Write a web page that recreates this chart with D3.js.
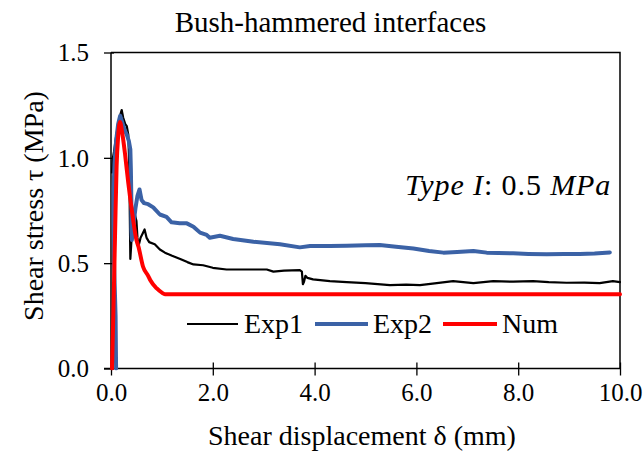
<!DOCTYPE html>
<html>
<head>
<meta charset="utf-8">
<script src="https://cdn.jsdelivr.net/npm/d3@7"></script>
<style>
  html, body { margin: 0; padding: 0; background: #fff; }
  svg { display: block; }
</style>
</head>
<body>
<svg id="chart" width="644" height="458"></svg>
<script>
// Shear displacement (mm) vs shear stress (MPa)
const exp1 = [
  [0.02,0.93],[0.03,0.99],[0.06,1.03],[0.10,1.10],[0.15,1.17],[0.19,1.21],[0.21,1.227],
  [0.24,1.19],[0.28,1.16],[0.31,1.15],[0.34,1.11],[0.36,0.95],[0.37,0.72],[0.38,0.52],
  [0.40,0.60],[0.43,0.74],[0.47,0.73],[0.50,0.70],[0.52,0.62],[0.54,0.58],[0.58,0.62],
  [0.62,0.64],[0.66,0.66],[0.70,0.62],[0.75,0.60],[0.86,0.59],[0.96,0.565],[1.06,0.55],
  [1.20,0.535],[1.36,0.52],[1.50,0.505],[1.62,0.494],[1.81,0.490],[2.00,0.478],[2.27,0.470],
  [2.60,0.470],[3.06,0.470],[3.19,0.460],[3.40,0.465],[3.71,0.467],[3.75,0.46],[3.77,0.40],
  [3.79,0.41],[3.82,0.44],[3.86,0.43],[3.97,0.423],[4.30,0.415],[4.63,0.41],[5.00,0.405],
  [5.48,0.396],[5.80,0.398],[6.07,0.396],[6.40,0.405],[6.72,0.415],[7.12,0.405],[7.51,0.415],
  [7.90,0.412],[8.29,0.415],[8.60,0.41],[8.95,0.407],[9.30,0.408],[9.60,0.405],[9.86,0.415],
  [10.0,0.41]
];
const exp2 = [
  [0.10,0.0],[0.09,0.25],[0.06,0.50],[0.05,0.70],[0.05,0.85],[0.07,0.98],[0.10,1.08],
  [0.14,1.16],[0.18,1.20],[0.22,1.17],[0.27,1.13],[0.31,1.11],[0.35,1.08],[0.38,1.04],
  [0.39,0.95],[0.40,0.80],[0.40,0.66],[0.41,0.61],[0.44,0.68],[0.48,0.76],[0.52,0.82],
  [0.56,0.85],[0.60,0.80],[0.65,0.785],[0.73,0.78],[0.83,0.765],[0.96,0.731],[1.09,0.72],
  [1.19,0.694],[1.35,0.69],[1.49,0.689],[1.62,0.673],[1.75,0.645],[1.88,0.634],[1.94,0.621],
  [2.14,0.630],[2.40,0.615],[2.80,0.602],[3.32,0.59],[3.71,0.575],[3.91,0.581],[4.30,0.582],
  [4.63,0.583],[5.00,0.585],[5.28,0.586],[5.60,0.578],[5.94,0.57],[6.25,0.558],[6.53,0.55],
  [6.80,0.553],[7.12,0.558],[7.38,0.55],[7.90,0.547],[8.20,0.544],[8.56,0.542],[8.90,0.543],
  [9.21,0.544],[9.50,0.546],[9.80,0.551]
];
const num = [
  [0.02,0.0],[0.05,0.30],[0.08,0.64],[0.11,0.96],[0.14,1.10],[0.177,1.17],[0.22,1.12],
  [0.275,1.02],[0.34,0.88],[0.41,0.75],[0.50,0.61],[0.54,0.578],[0.63,0.483],[0.73,0.44],
  [0.77,0.42],[0.90,0.38],[1.00,0.36],[1.06,0.353],[10.0,0.353]
];

const seriesNames = ["Exp1", "Exp2", "Num"];
const seriesColors = ["#000000", "#3b62a6", "#ff0000"];
const seriesWidths = [2.2, 4, 4];

const xTicks = [0, 2, 4, 6, 8, 10];
const xTickLabels = ["0.0", "2.0", "4.0", "6.0", "8.0", "10.0"];
const yTicks = [0, 0.5, 1.0, 1.5];
const yTickLabels = ["0.0", "0.5", "1.0", "1.5"];

const FONT = "'Liberation Serif', 'Times New Roman', serif";
const svg = d3.select("#chart");
const plotLeft = 111, plotRight = 620, plotTop = 52.5, plotBottom = 368.5;

const x = d3.scaleLinear().domain([0, 10]).range([plotLeft, plotRight]);
const y = d3.scaleLinear().domain([0, 1.5]).range([plotBottom, plotTop]);

// Title
svg.append("text")
  .attr("x", 330.5).attr("y", 32)
  .attr("text-anchor", "middle")
  .style("font-family", FONT).style("font-size", "29px")
  .text("Bush-hammered interfaces");

// Plot frame (top and right edges)
svg.append("path")
  .attr("d", `M${plotLeft},${plotTop}H${plotRight}V${plotBottom}`)
  .attr("fill", "none").attr("stroke", "#000").attr("stroke-width", 1.5);

// Axes
const xAxis = svg.append("g")
  .attr("transform", `translate(0,${plotBottom})`)
  .call(d3.axisBottom(x).tickValues(xTicks).tickSize(7).tickFormat((d, i) => xTickLabels[i]));
xAxis.select(".domain").attr("stroke-width", 1.5).attr("d", `M${plotLeft - 7},0H${plotRight}`);
xAxis.selectAll(".tick line").attr("y1", -6).attr("stroke-width", 1.3);
xAxis.selectAll(".tick text")
  .attr("y", 32.5).attr("dy", 0)
  .style("font-family", FONT).style("font-size", "25px").attr("fill", "#000");

const yAxis = svg.append("g")
  .attr("transform", `translate(${plotLeft},0)`)
  .call(d3.axisLeft(y).tickValues(yTicks).tickSize(7).tickFormat((d, i) => yTickLabels[i]));
yAxis.select(".domain").attr("stroke-width", 1.5).attr("d", `M0,${plotTop}V${plotBottom}`);
yAxis.selectAll(".tick line").attr("x1", 3).attr("stroke-width", 1.3);
yAxis.selectAll(".tick text")
  .attr("x", -22).attr("dy", "0.33em")
  .style("font-family", FONT).style("font-size", "25px").attr("fill", "#000");

// Axis titles
svg.append("text")
  .attr("x", 362).attr("y", 445)
  .attr("text-anchor", "middle")
  .style("font-family", FONT).style("font-size", "28px")
  .text("Shear displacement δ (mm)");

svg.append("text")
  .attr("transform", "translate(43,206) rotate(-90)")
  .attr("text-anchor", "middle")
  .style("font-family", FONT).style("font-size", "28px")
  .text("Shear stress τ (MPa)");

// Curves
const line = d3.line().x(d => x(d[0])).y(d => y(d[1]));
const smooth = d3.line().x(d => x(d[0])).y(d => y(d[1])).curve(d3.curveMonotoneX);

svg.append("clipPath").attr("id", "plot-clip")
  .append("rect").attr("x", plotLeft - 2).attr("y", plotTop - 10)
  .attr("width", plotRight - plotLeft + 4).attr("height", plotBottom - plotTop + 12);

const curves = svg.append("g").attr("clip-path", "url(#plot-clip)");
[exp1, exp2, num].forEach((data, i) => {
  curves.append("path")
    .datum(data)
    .attr("d", i === 2 ? smooth : line)
    .attr("fill", "none")
    .attr("stroke", seriesColors[i])
    .attr("stroke-width", seriesWidths[i])
    .attr("stroke-linejoin", "round")
    .attr("stroke-linecap", "round");
});

// Loading annotation
const note = svg.append("text")
  .attr("x", 405).attr("y", 195)
  .style("font-family", FONT).style("font-size", "30px")
  .style("letter-spacing", "0.9px");
note.append("tspan").style("font-style", "italic").text("Type I");
note.append("tspan").text(": 0.5 ");
note.append("tspan").style("font-style", "italic").text("MPa");

// Legend
const legendItems = [
  { x1: 187, x2: 238, tx: 244 },
  { x1: 315, x2: 368, tx: 373 },
  { x1: 443, x2: 497, tx: 502 }
];
const legend = svg.append("g");
legendItems.forEach((item, i) => {
  legend.append("line")
    .attr("x1", item.x1).attr("x2", item.x2)
    .attr("y1", 324).attr("y2", 324)
    .attr("stroke", seriesColors[i])
    .attr("stroke-width", seriesWidths[i]);
  legend.append("text")
    .attr("x", item.tx).attr("y", 333)
    .style("font-family", FONT).style("font-size", "28px")
    .text(seriesNames[i]);
});
</script>
</body>
</html>
